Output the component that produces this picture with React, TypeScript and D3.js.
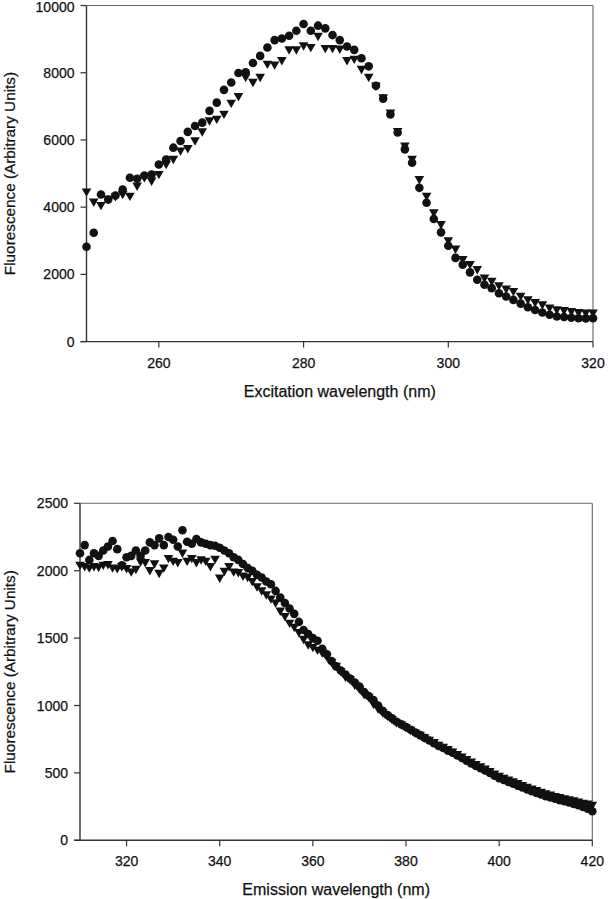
import React from 'react';
import * as d3 from 'd3';

const FONT = "'Liberation Sans', Arial, Helvetica, sans-serif";
const INK = '#111';

// ---------- Excitation spectrum (top) ----------
const excStart = 250;
const excEnd = 320;
const excNm = d3.range(excStart, excEnd + 1);
const excCircles = [
  2820, 3240, 4375, 4230, 4345, 4525, 4875, 4845, 4940, 4970,
  5270, 5420, 5770, 5970, 6240, 6415, 6515, 6865, 7110, 7490,
  7710, 7990, 8010, 8290, 8500, 8750, 8970, 9020, 9100, 9250,
  9450, 9250, 9400, 9320, 9120, 8970, 8780, 8680, 8430, 8190,
  7610, 7230, 6760, 6220, 5720, 5320, 4575, 4130, 3650, 3250,
  2850, 2490, 2290, 2060, 1840, 1690, 1590, 1440, 1340, 1240,
  1130, 1020, 940, 865, 800, 745, 730, 710, 695, 690, 695,
];
const excTriangles = [
  4450, 4150, 4050, 4230, 4310, 4375, 4325, 4625, 4875, 4775,
  4970, 5270, 5420, 5670, 5740, 5970, 6240, 6565, 6615, 6765,
  7090, 7290, 7860, 7710, 7860, 8250, 8230, 8360, 8680, 8680,
  8800, 8750, 9080, 8720, 8720, 8700, 8360, 8400, 8100, 7860,
  7600, 7250, 6800, 6250, 5820, 5420, 4820, 4325, 3830, 3480,
  3000, 2750, 2440, 2290, 2140, 1890, 1790, 1660, 1560, 1490,
  1350, 1240, 1160, 1090, 1000, 945, 920, 890, 860, 850, 845,
];
const excXTicks = [260, 280, 300, 320];
const excYTicks = [0, 2000, 4000, 6000, 8000, 10000];

// ---------- Emission spectrum (bottom) ----------
const emStart = 310;
const emEnd = 420;
const emNm = d3.range(emStart, emEnd + 1);
const emCircles = [
  2130, 2190, 2080, 2130, 2110, 2150, 2180, 2220, 2160, 2040,
  2100, 2110, 2150, 2110, 2150, 2210, 2190, 2240, 2190, 2250,
  2230, 2180, 2300, 2215, 2200, 2235, 2210, 2200, 2190, 2185,
  2170, 2150, 2130, 2100, 2080, 2050, 2020, 2000, 1970, 1950,
  1920, 1900, 1850, 1800, 1760, 1720, 1680, 1620, 1560, 1530,
  1500, 1480, 1420, 1380, 1330, 1290, 1260, 1230, 1200, 1170,
  1140, 1100, 1070, 1040, 1000, 960, 930, 905, 880, 860,
  840, 820, 800, 780, 760, 740, 720, 700, 685, 665,
  650, 630, 610, 590, 570, 552, 535, 518, 500, 480,
  460, 447, 432, 420, 405, 392, 378, 365, 352, 340,
  328, 318, 308, 298, 290, 280, 270, 260, 248, 235, 215,
];
const emTriangles = [
  2040, 2030, 2020, 2030, 2025, 2040, 2045, 2020, 2015, 2030,
  2015, 1990, 2010, 2065, 2060, 2000, 2050, 1980, 2020, 2090,
  2070, 2060, 2130, 2070, 2090, 2060, 2080, 2070, 2030, 2085,
  1945, 1995, 2030, 1990, 1985, 1960, 1950, 1920, 1880, 1850,
  1820, 1790, 1760, 1700, 1660, 1610, 1580, 1540, 1490, 1450,
  1430, 1410, 1390, 1360, 1320, 1290, 1250, 1210, 1190, 1150,
  1120, 1080, 1060, 1010, 975, 945, 920, 895, 870, 855,
  835, 815, 795, 778, 760, 742, 724, 705, 690, 672,
  655, 636, 618, 598, 580, 562, 545, 528, 510, 492,
  475, 460, 446, 433, 420, 406, 393, 380, 368, 356,
  345, 335, 325, 316, 308, 300, 292, 283, 275, 268, 260,
];
const emXTicks = [320, 340, 360, 380, 400, 420];
const emYTicks = [0, 500, 1000, 1500, 2000, 2500];

const yTitle = 'Fluorescence (Arbitrary Units)';

type PanelProps = {
  xs: number[];
  circles: number[];
  triangles: number[];
  xDomain: [number, number];
  yDomain: [number, number];
  xTicks: number[];
  yTicks: number[];
  left: number;
  right: number;
  top: number;
  bottom: number;
  xTitle: string;
};

const triPath = 'M-4.8,-3.6L4.8,-3.6L0,4.8Z';
const textStyle = { stroke: INK, strokeWidth: 0.25 };

function Panel(p: PanelProps) {
  const x = d3.scaleLinear().domain(p.xDomain).range([p.left, p.right]);
  const y = d3.scaleLinear().domain(p.yDomain).range([p.bottom, p.top]);
  const midX = (p.left + p.right) / 2;
  const midY = (p.top + p.bottom) / 2;
  return (
    <g>
      {/* frame */}
      <line x1={p.left} x2={p.right} y1={p.top} y2={p.top} stroke="#666" strokeWidth={1.1} />
      <line x1={p.right} x2={p.right} y1={p.top} y2={p.bottom} stroke="#666" strokeWidth={1.1} />
      <line x1={p.left} x2={p.left} y1={p.top} y2={p.bottom} stroke="#333" strokeWidth={1.4} />
      <line x1={p.left - 6} x2={p.right} y1={p.bottom} y2={p.bottom} stroke="#333" strokeWidth={1.4} />
      {p.yTicks.map((t) => (
        <g key={'y' + t}>
          <line x1={p.left - 6} x2={p.left} y1={y(t)} y2={y(t)} stroke="#333" strokeWidth={1.2} />
          <text x={p.left - 12} y={Math.max(y(t), 6.5)} dy="0.36em" textAnchor="end" fontSize={14} fontFamily={FONT} fill={INK} style={textStyle}>
            {t}
          </text>
        </g>
      ))}
      {p.xTicks.map((t) => (
        <g key={'x' + t}>
          <line x1={x(t)} x2={x(t)} y1={p.bottom} y2={p.bottom + 6} stroke="#333" strokeWidth={1.2} />
          <text x={x(t)} y={p.bottom + 26} textAnchor="middle" fontSize={14} fontFamily={FONT} fill={INK} style={textStyle}>
            {t}
          </text>
        </g>
      ))}
      <text x={midX} y={p.bottom + 55} textAnchor="middle" fontSize={16} fontFamily={FONT} fill={INK} style={textStyle}>
        {p.xTitle}
      </text>
      <text
        transform={`translate(15,${midY}) rotate(-90)`}
        textAnchor="middle"
        fontSize={15.3}
        fontFamily={FONT}
        fill={INK}
        style={textStyle}
      >
        {yTitle}
      </text>
      {p.xs.map((v, i) => (
        <path key={'t' + i} d={triPath} transform={`translate(${x(v)},${y(p.triangles[i])})`} fill={INK} />
      ))}
      {p.xs.map((v, i) => (
        <circle key={'c' + i} cx={x(v)} cy={y(p.circles[i])} r={4.3} fill={INK} />
      ))}
    </g>
  );
}

export default function App() {
  return (
    <svg
      width={608}
      height={899}
      viewBox="0 0 608 899"
      style={{ position: 'absolute', left: 0, top: 0, background: '#fff' }}
    >
      <rect width={608} height={899} fill="#fff" />
      <Panel
        xs={excNm}
        circles={excCircles}
        triangles={excTriangles}
        xDomain={[excStart, excEnd]}
        yDomain={[0, 10000]}
        xTicks={excXTicks}
        yTicks={excYTicks}
        left={86.5}
        right={593}
        top={5.5}
        bottom={341.6}
        xTitle="Excitation wavelength (nm)"
      />
      <Panel
        xs={emNm}
        circles={emCircles}
        triangles={emTriangles}
        xDomain={[emStart, emEnd]}
        yDomain={[0, 2500]}
        xTicks={emXTicks}
        yTicks={emYTicks}
        left={80}
        right={592.3}
        top={503.3}
        bottom={840.3}
        xTitle="Emission wavelength (nm)"
      />
    </svg>
  );
}
